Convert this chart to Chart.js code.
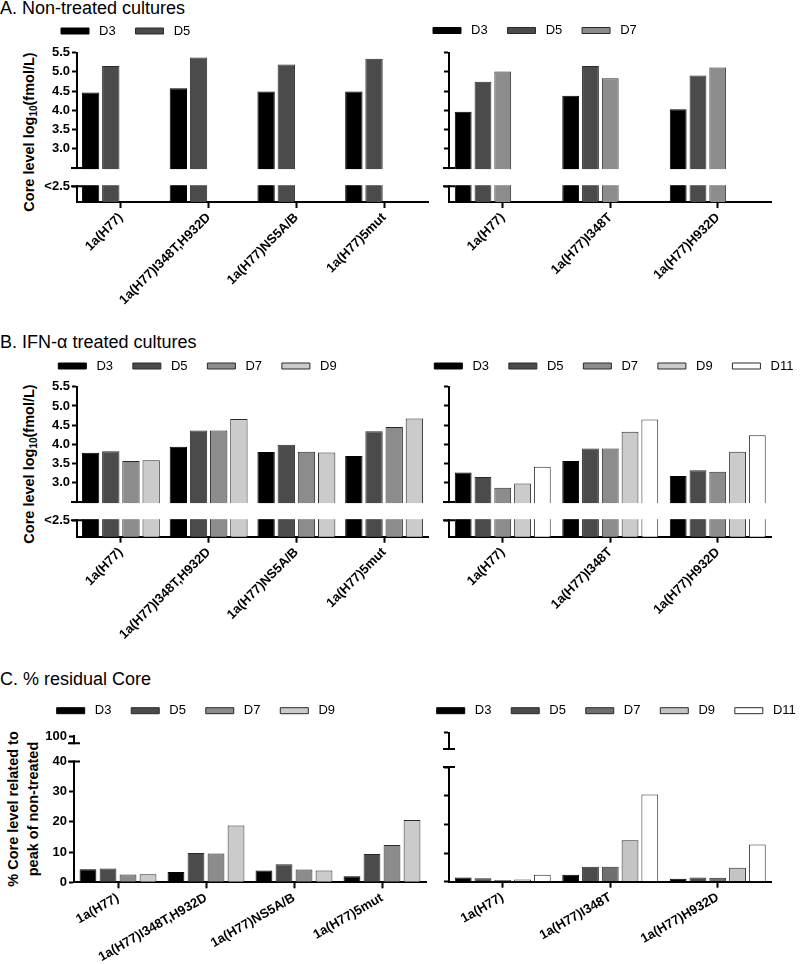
<!DOCTYPE html>
<html>
<head>
<meta charset="utf-8">
<script src="https://cdn.jsdelivr.net/npm/chart.js@4.4.1/dist/chart.umd.min.js"></script>
<style>
  html, body { margin: 0; padding: 0; background: #fff; overflow: hidden; }
  body { width: 800px; height: 964px; position: relative; font-family: "Liberation Sans", Arial, sans-serif; color: #000; }
  canvas { position: absolute; }
  .title { position: absolute; left: 0; font-size: 18px; line-height: 18px; white-space: nowrap; }
  .ytitle { position: absolute; font-weight: bold; font-size: 14.5px; line-height: 20px; white-space: nowrap;
            text-align: center; transform: translate(-50%, -50%) rotate(-90deg); }
  .ytitle sub { font-size: 10px; vertical-align: -3px; line-height: 0; }
</style>
</head>
<body>
<div class="title" style="top:-1px">A. Non-treated cultures</div>
<div class="title" style="top:333px">B. IFN-&alpha; treated cultures</div>
<div class="title" style="top:670px">C. % residual Core</div>
<div class="ytitle" style="left:29px; top:132px">Core level log<sub>10</sub>(fmol/L)</div>
<div class="ytitle" style="left:29px; top:464px">Core level log<sub>10</sub>(fmol/L)</div>
<div class="ytitle" style="left:23px; top:809px">% Core level related to<br>peak of non-treated</div>

<script>
"use strict";

// --- Veriler ------------------------------------------------------------------

const catsLeft = ["1a(H77)", "1a(H77)I348T,H932D", "1a(H77)NS5A/B", "1a(H77)5mut"];
const catsRight = ["1a(H77)", "1a(H77)I348T", "1a(H77)H932D"];
const days = ["D3", "D5", "D7", "D9", "D11"];

// A. log10 core, non-treated
const aLeftD3 = [4.46, 4.57, 4.49, 4.49];
const aLeftD5 = [5.15, 5.37, 5.19, 5.34];
const aRightD3 = [3.96, 4.38, 4.03];
const aRightD5 = [4.74, 5.15, 4.90];
const aRightD7 = [5.01, 4.83, 5.11];

// B. log10 core, IFN treated
const bLeftD3 = [3.78, 3.94, 3.80, 3.70];
const bLeftD5 = [3.82, 4.36, 3.99, 4.34];
const bLeftD7 = [3.57, 4.36, 3.81, 4.45];
const bLeftD9 = [3.59, 4.66, 3.79, 4.67];
const bRightD3 = [3.27, 3.57, 3.18];
const bRightD5 = [3.15, 3.89, 3.33];
const bRightD7 = [2.87, 3.89, 3.29];
const bRightD9 = [2.98, 4.33, 3.81];
const bRightD11 = [3.42, 4.65, 4.24];

// C. % residual core
const cLeftD3 = [4.3, 3.4, 3.9, 2.0];
const cLeftD5 = [4.6, 9.7, 6.0, 9.4];
const cLeftD7 = [2.6, 9.5, 4.2, 12.3];
const cLeftD9 = [2.7, 18.8, 3.9, 20.6];
const cRightD3 = [1.5, 2.4, 1.0];
const cRightD5 = [1.2, 5.2, 1.5];
const cRightD7 = [0.6, 5.2, 1.4];
const cRightD9 = [0.8, 14.5, 4.9];
const cRightD11 = [2.4, 30.4, 13.0];

// eksen tikleri (kirik eksen: alt parca "<2.5" / ust parca "100")
const logTicks = [2.03, 2.5, 3.0, 3.5, 4.0, 4.5, 5.0, 5.5];
const logTickLabels = ["<2.5", "", "3.0", "3.5", "4.0", "4.5", "5.0", "5.5"];
const pctTicksLeft = [0, 10, 20, 30, 40, 46, 48.4];
const pctTicksRight = [0, 10, 20, 30, 40, 46.3, 52];
const pctTickLabels = ["0", "10", "20", "30", "40", "", "100"];

// --- Stil ---------------------------------------------------------------------

const FONT = "'Liberation Sans', Arial, sans-serif";
const FILLS = ["#000000", "#4b4b4b", "#8c8c8c", "#cbcbcb", "#ffffff"];
const FILLS_C = ["#000000", "#4b4b4b", "#6f6f6f", "#c4c4c4", "#ffffff"];
const LEG_PAD = 19.8;
const LEG_FONT = 13;

Chart.defaults.color = "#000";
Chart.defaults.font.family = FONT;

// kirik eksen: bandi beyazla, uclara kisa cizgi
const axisBreak = {
  id: "axisBreak",
  afterDraw(chart, args, opts) {
    const { ctx, chartArea } = chart;
    const y = chart.scales.y;
    const x0 = chartArea.left;
    const top = y.getPixelForValue(opts.hi);
    const bot = y.getPixelForValue(opts.lo);
    ctx.save();
    ctx.fillStyle = "#fff";
    ctx.fillRect(x0 - 8, top + 1, chartArea.right - x0 + 12, bot - top - 2);
    ctx.strokeStyle = "#000";
    ctx.lineWidth = 2;
    ctx.beginPath();
    [top, bot].forEach((py) => { ctx.moveTo(x0 - 6, py); ctx.lineTo(x0 + 6, py); });
    ctx.stroke();
    ctx.restore();
  },
};

const baseLabels = Chart.defaults.plugins.legend.labels.generateLabels;

// --- Panel ----------------------------------------------------------------------

function panel(p) {
  const cv = document.createElement("canvas");
  cv.width = p.w;
  cv.height = p.h;
  cv.style.left = p.cl + "px";
  cv.style.top = p.ct + "px";
  document.body.appendChild(cv);

  // lejant kutusu legX'te, ortasi legY'de baslasin
  const padL = p.legX - LEG_PAD - p.cl;
  const padT = p.legY - LEG_PAD - LEG_FONT / 2 - p.ct;
  const legH = LEG_FONT + LEG_PAD + 10;
  const yW = p.axisX - (p.cl + padL);
  const gap = Math.max(0, p.plotTop - (p.ct + padT + legH));
  const xH = p.h - (p.plotBottom - p.ct);
  const padR = p.w - (p.plotRight - p.cl);

  new Chart(cv, {
    type: "bar",
    data: {
      labels: p.labels,
      datasets: p.series.map((d, i) => ({
        label: days[i], data: d,
        backgroundColor: p.fills[i], borderColor: i === 0 ? "#000" : "#2a2a2a", borderWidth: 1,
        categoryPercentage: p.catPct, barPercentage: p.barPct,
        xAxisID: "x", yAxisID: "y",
      })),
    },
    options: {
      responsive: false, animation: false, devicePixelRatio: 1,
      layout: { padding: { left: padL, top: padT, right: 0, bottom: 0 } },
      events: [],
      plugins: {
        legend: {
          position: "top", align: "start",
          labels: {
            boxWidth: 28, boxHeight: 6, padding: LEG_PAD, color: "#000",
            font: { family: FONT, size: LEG_FONT },
            generateLabels: (chart) => baseLabels(chart).map((it) => ({ ...it, text: " " + it.text })),
            filter: (item, data) => data.datasets[item.datasetIndex].data.length > 0,
          },
        },
        tooltip: { enabled: false },
        axisBreak: p.brk,
      },
      scales: {
        x: {
          type: "category", position: "bottom", offset: true,
          grid: { drawOnChartArea: false, offset: false, tickLength: 6, tickWidth: 2, tickColor: "#000" },
          border: { display: true, width: 2, color: "#000" },
          ticks: {
            color: "#000", font: { family: FONT, size: 13, weight: "bold" },
            minRotation: p.rot, maxRotation: p.rot, autoSkip: false, padding: 2,
          },
          afterFit: (s) => { s.height = xH; s.paddingLeft = 0; s.paddingRight = padR; },
        },
        y: {
          type: "linear", position: "left", min: p.min, max: p.max,
          grid: { drawOnChartArea: false, tickLength: 5, tickWidth: 2, tickColor: "#000" },
          border: { display: true, width: 2, color: "#000" },
          ticks: {
            color: "#000", font: { family: FONT, size: 13, weight: "bold" }, padding: 2,
            callback: (v) => p.tickLabels[p.ticks.indexOf(v)] ?? "",
          },
          afterBuildTicks: (s) => { s.ticks = p.ticks.map((v) => ({ value: v })); },
          afterFit: (s) => { s.width = yW; },
        },
        gap: {
          type: "category", position: "top", display: true,
          grid: { display: false }, border: { display: false }, ticks: { display: false },
          afterFit: (s) => { s.height = gap; },
        },
      },
    },
    plugins: [axisBreak],
  });
}

const blank = (arr) => arr.map(() => "");

// A
panel({ cl: 0, ct: 0, w: 440, h: 326, legX: 61, legY: 31,
  axisX: 77, plotTop: 52.5, plotBottom: 202, plotRight: 428,
  labels: catsLeft, series: [aLeftD3, aLeftD5, [], []], fills: FILLS,
  min: 1.62, max: 5.5, ticks: logTicks, tickLabels: logTickLabels, brk: { lo: 2.03, hi: 2.5 },
  rot: 45, catPct: 0.92, barPct: 0.86 });
panel({ cl: 380, ct: 0, w: 450, h: 326, legX: 433, legY: 30.5,
  axisX: 449, plotTop: 52.5, plotBottom: 202, plotRight: 771.5,
  labels: catsRight, series: [aRightD3, aRightD5, aRightD7, [], []], fills: FILLS,
  min: 1.62, max: 5.5, ticks: logTicks, tickLabels: blank(logTicks), brk: { lo: 2.03, hi: 2.5 },
  rot: 45, catPct: 0.92, barPct: 0.85 });

// B
panel({ cl: 0, ct: 330, w: 440, h: 336, legX: 58.3, legY: 366,
  axisX: 77, plotTop: 386.7, plotBottom: 536.7, plotRight: 428,
  labels: catsLeft, series: [bLeftD3, bLeftD5, bLeftD7, bLeftD9], fills: FILLS,
  min: 1.6, max: 5.5, ticks: logTicks, tickLabels: logTickLabels, brk: { lo: 2.03, hi: 2.5 },
  rot: 45, catPct: 0.92, barPct: 0.86 });
panel({ cl: 380, ct: 330, w: 450, h: 336, legX: 434.3, legY: 366,
  axisX: 449, plotTop: 386.7, plotBottom: 536.7, plotRight: 771.5,
  labels: catsRight, series: [bRightD3, bRightD5, bRightD7, bRightD9, bRightD11], fills: FILLS,
  min: 1.6, max: 5.5, ticks: logTicks, tickLabels: blank(logTicks), brk: { lo: 2.03, hi: 2.5 },
  rot: 45, catPct: 0.92, barPct: 0.85 });

// C
panel({ cl: 0, ct: 670, w: 440, h: 294, legX: 56.7, legY: 710.7,
  axisX: 74, plotTop: 736, plotBottom: 882.3, plotRight: 426,
  labels: catsLeft, series: [cLeftD3, cLeftD5, cLeftD7, cLeftD9], fills: FILLS,
  min: 0, max: 48.4, ticks: pctTicksLeft, tickLabels: pctTickLabels, brk: { lo: 40, hi: 46 },
  rot: 30, catPct: 0.91, barPct: 0.84 });
panel({ cl: 380, ct: 670, w: 450, h: 294, legX: 436.7, legY: 710.7,
  axisX: 449, plotTop: 732.7, plotBottom: 881.7, plotRight: 771.5,
  labels: catsRight, series: [cRightD3, cRightD5, cRightD7, cRightD9, cRightD11], fills: FILLS_C,
  min: 0, max: 52, ticks: pctTicksRight, tickLabels: blank(pctTicksRight), brk: { lo: 40, hi: 46.3 },
  rot: 30, catPct: 0.92, barPct: 0.85 });
</script>
</body>
</html>
